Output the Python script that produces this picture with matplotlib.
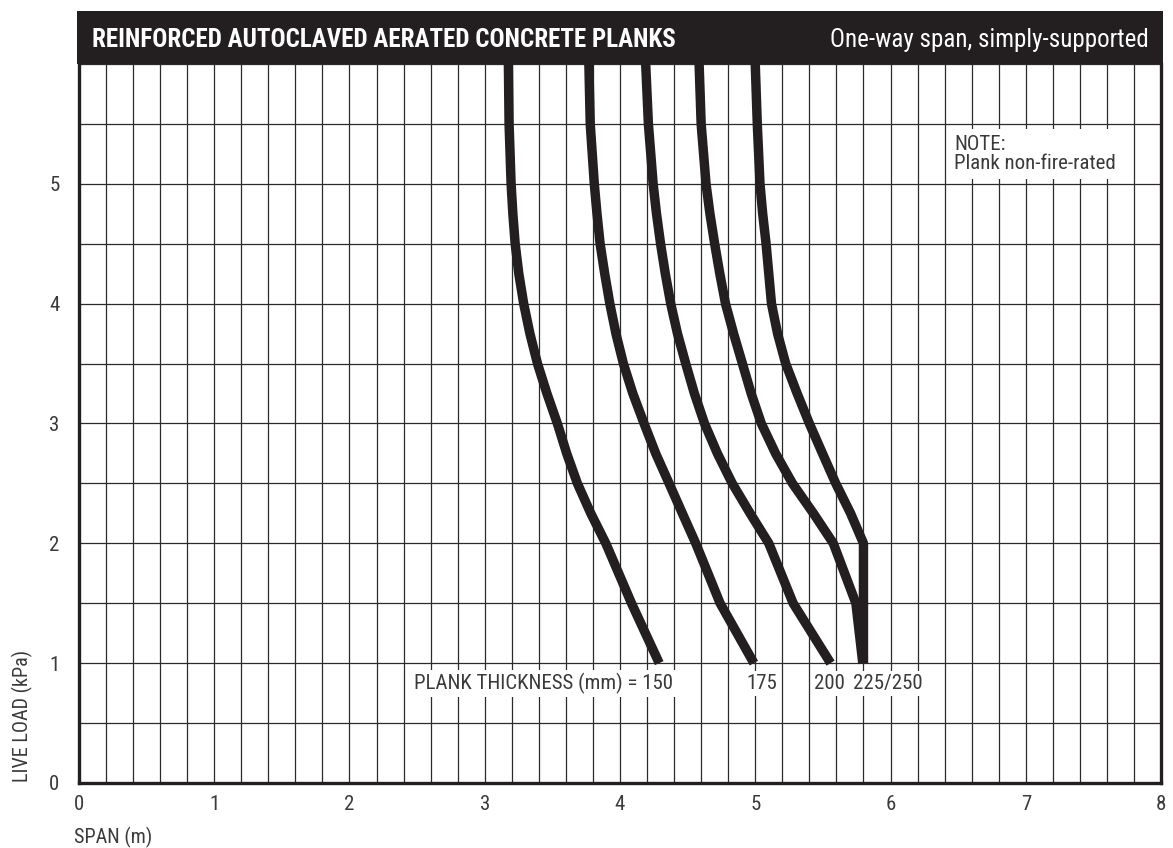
import matplotlib
matplotlib.use("Agg")
import matplotlib.pyplot as plt
import numpy as np

plt.rcParams['font.family'] = ['Roboto Condensed', 'IBM Plex Sans Condensed',
                               'Open Sans Condensed', 'Liberation Sans', 'DejaVu Sans']

# --- data (live load kPa -> span m) ---
load_150 = [6.0, 5.5, 5.0, 4.75, 4.5, 4.25, 4.0, 3.75, 3.5, 3.25, 3.0, 2.75, 2.5, 2.25, 2.0, 1.5, 1.0]
span_150 = [3.175, 3.18, 3.195, 3.208, 3.225, 3.252, 3.288, 3.334, 3.39, 3.46, 3.537, 3.606, 3.685, 3.784, 3.895, 4.085, 4.29]

load_175 = [6.0, 5.5, 5.0, 4.75, 4.5, 4.25, 4.0, 3.75, 3.5, 3.25, 3.0, 2.75, 2.5, 2.25, 2.0, 1.5, 1.0]
span_175 = [3.77, 3.78, 3.81, 3.83, 3.853, 3.887, 3.925, 3.97, 4.025, 4.095, 4.178, 4.264, 4.363, 4.461, 4.56, 4.74, 4.99]

load_200 = [6.0, 5.5, 5.0, 4.75, 4.5, 4.25, 4.0, 3.75, 3.5, 3.25, 3.0, 2.75, 2.5, 2.25, 2.0, 1.5, 1.0]
span_200 = [4.19, 4.21, 4.245, 4.27, 4.30, 4.335, 4.375, 4.425, 4.486, 4.55, 4.625, 4.72, 4.83, 4.962, 5.10, 5.28, 5.557]

load_225 = [6.0, 5.5, 5.0, 4.75, 4.5, 4.25, 4.0, 3.75, 3.5, 3.25, 3.0, 2.75, 2.5, 2.25, 2.0, 1.5, 1.0]
span_225 = [4.585, 4.60, 4.636, 4.665, 4.70, 4.738, 4.78, 4.84, 4.905, 4.97, 5.045, 5.15, 5.275, 5.43, 5.577, 5.744, 5.795]

load_250 = [6.0, 5.5, 5.0, 4.75, 4.5, 4.25, 4.0, 3.75, 3.5, 3.25, 3.0, 2.75, 2.5, 2.25, 2.0, 1.0]
span_250 = [5.0, 5.015, 5.035, 5.055, 5.08, 5.10, 5.12, 5.165, 5.225, 5.31, 5.40, 5.497, 5.595, 5.705, 5.80, 5.80]

curves = [(span_150, load_150), (span_175, load_175), (span_200, load_200),
          (span_225, load_225), (span_250, load_250)]

x_ticks = [0, 1, 2, 3, 4, 5, 6, 7, 8]
y_ticks = [0, 1, 2, 3, 4, 5]

title_left = "REINFORCED AUTOCLAVED AERATED CONCRETE PLANKS"
title_right = "One-way span, simply-supported"

ink = "#231f20"
grid_col = "#2b2b2b"
txt_col = "#3a3a3a"

fig = plt.figure(figsize=(11.73, 8.48), dpi=100)
ax = fig.add_axes([0.0673, 0.0767, 0.9225, 0.8478])
ax.set_xlim(0, 8)
ax.set_ylim(0, 6)

# grid
ax.set_xticks(np.arange(0, 8.01, 0.2), minor=True)
ax.set_yticks(np.arange(0, 6.01, 0.5), minor=True)
ax.set_xticks(x_ticks)
ax.set_yticks(y_ticks)
ax.grid(which='both', color=grid_col, linewidth=0.9)
ax.set_axisbelow(True)
ax.tick_params(which='both', length=0)
ax.tick_params(axis='x', pad=9, labelsize=15, labelcolor=txt_col)
ax.tick_params(axis='y', pad=14, labelsize=15, labelcolor=txt_col)

for side in ['left', 'bottom', 'right']:
    ax.spines[side].set_linewidth(2.4)
    ax.spines[side].set_color(ink)
ax.spines['top'].set_visible(False)

# curves
for xs, ys in curves:
    ax.plot(xs, ys, color=ink, linewidth=6.8, solid_joinstyle='round',
            solid_capstyle='butt', zorder=3)

# labels
bbox_w = dict(facecolor='white', edgecolor='none', pad=2)
lab_kw = dict(fontsize=15, color=txt_col, va='center', bbox=bbox_w, zorder=4)
ax.text(2.48, 0.83, "PLANK THICKNESS (mm) = 150", ha='left', **lab_kw)
ax.text(5.05, 0.83, "175", ha='center', **lab_kw)
ax.text(5.545, 0.83, "200", ha='center', **lab_kw)
ax.text(5.72, 0.83, "225/250", ha='left', **lab_kw)

ax.text(6.47, 5.25, "NOTE:\nPlank non-fire-rated", fontsize=15, color=txt_col,
        ha='left', va='center', linespacing=1.05,
        bbox=dict(facecolor='white', edgecolor='none', pad=4), zorder=4)

# axis titles
fig.text(0.019, 0.078, "LIVE LOAD (kPa)", rotation=90, fontsize=14.5,
         color=txt_col, ha='center', va='bottom')
fig.text(0.063, 0.012, "SPAN (m)", fontsize=14.5,
         color=txt_col, ha='left', va='center')

# header band
hdr = fig.add_axes([0.0656, 0.9245, 0.926, 0.0625])
hdr.set_facecolor(ink)
hdr.set_xticks([])
hdr.set_yticks([])
for s in hdr.spines.values():
    s.set_visible(False)
hdr.text(0.014, 0.45, title_left, color='white', fontsize=18, fontweight='bold',
         ha='left', va='center', transform=hdr.transAxes)
hdr.text(0.987, 0.45, title_right, color='white', fontsize=18,
         ha='right', va='center', transform=hdr.transAxes)

fig.savefig("out.png", dpi=100)
